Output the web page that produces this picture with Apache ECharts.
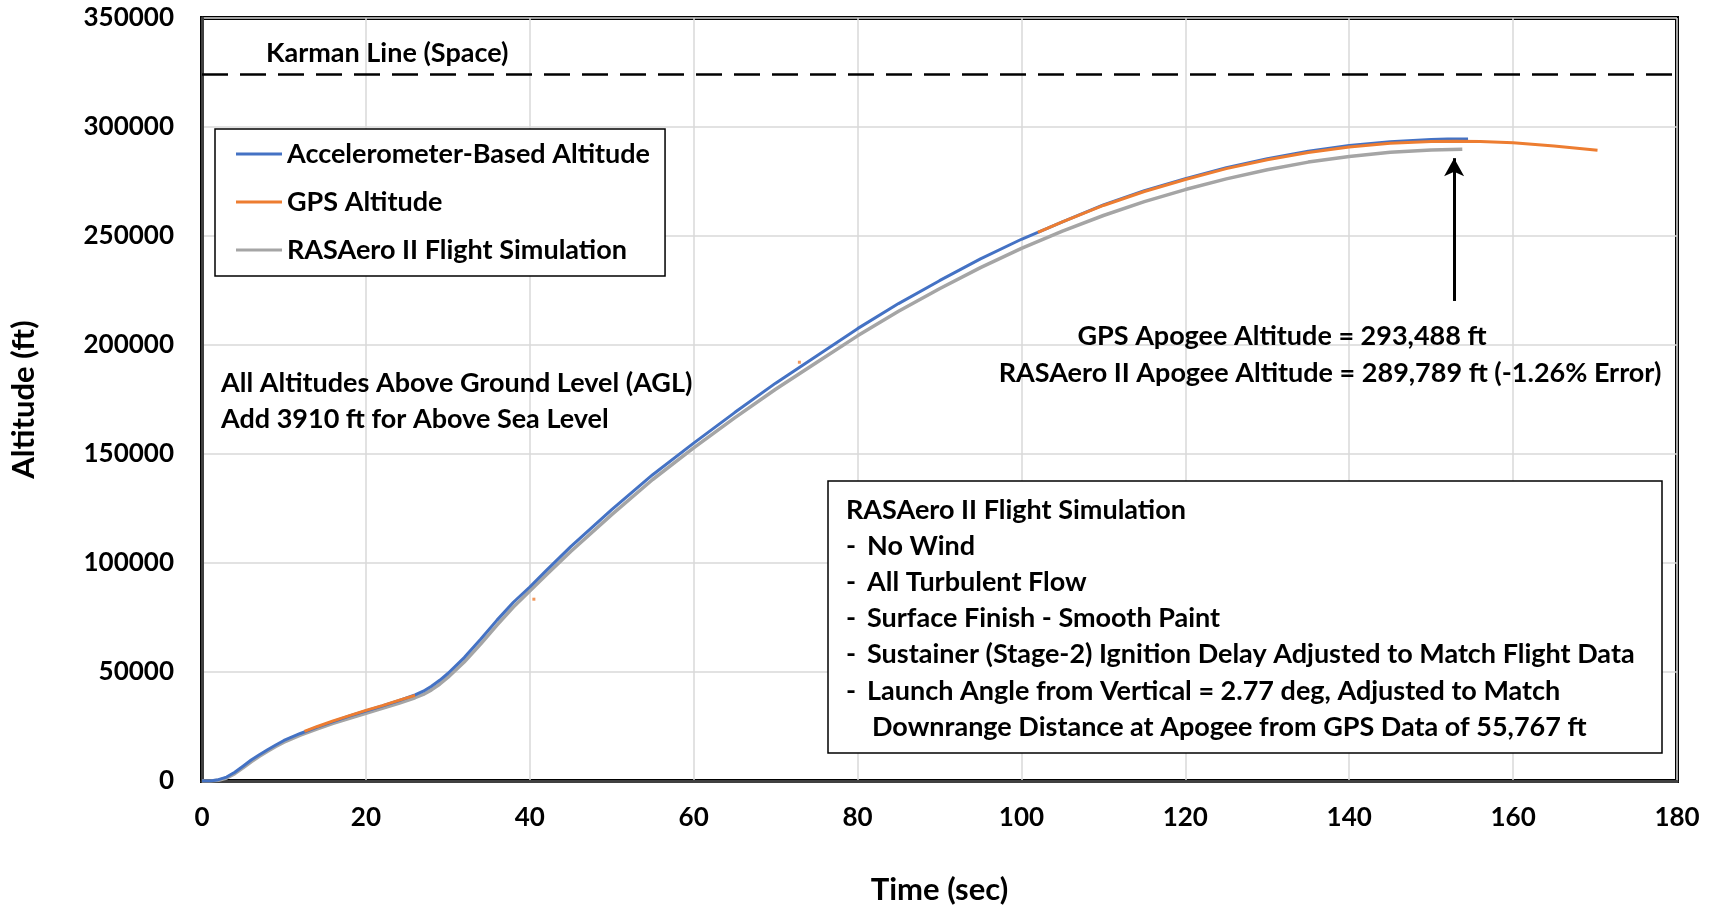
<!DOCTYPE html>
<html>
<head>
<meta charset="utf-8">
<script src="https://cdn.jsdelivr.net/npm/echarts@6/dist/echarts.min.js"></script>
<style>
html,body{margin:0;padding:0;background:#fff;}
#chart{width:1719px;height:910px;}
</style>
</head>
<body>
<div id="chart"></div>
<script>
// ---- Data ----
const timeAccel = [0,1,2,3,4,5,6,7,8,9,10,12,14,16,18,20,22,24,26,27,28,29,30,32,34,36,38,40,42,45,50,55,60,65,70,75,80,85,90,95,100,105,110,115,120,125,130,135,140,145,150,152,154.5];
const altAccel  = [0,0,600,1800,4000,6800,9600,12000,14300,16500,18600,21800,24600,27200,29800,32100,34400,36800,39500,41200,43500,46200,49300,56600,65000,73800,82000,89000,96500,107500,124500,140500,155000,169000,182500,195000,207500,219000,229500,239500,248500,256500,264300,270800,276300,281300,285500,288900,291500,293200,294300,294500,294500];

const timeGps = [12.5,14,16,18,20,22,24,26,null,102,105,110,115,120,125,130,135,140,145,150,153,156,160,165,170.3];
const altGps  = [22800,24900,27600,30000,32400,34600,37000,39300,null,251700,256500,264000,270400,275900,280900,285000,288300,290800,292600,293300,293488,293350,292800,291300,289300];

const timeGpsIsolated = [40.5,72.9];
const altGpsIsolated  = [83400,192100];

const timeSim = [0,1,2,3,4,5,6,7,8,9,10,12,14,16,18,20,22,24,26,27,28,29,30,32,34,36,38,40,42,45,50,55,60,65,70,75,80,85,90,95,100,105,110,115,120,125,130,135,140,145,150,153.8];
const altSim  = [0,0,300,1400,3400,6000,8800,11300,13600,15800,17800,21000,23800,26400,28800,31100,33300,35600,38200,39700,41800,44400,47500,54600,62800,71500,79800,87200,94500,105300,122200,138300,152800,166600,179700,192000,204200,215500,225800,235500,244300,252200,259400,265800,271300,276200,280400,283900,286500,288400,289500,289789];

const karmanAltitudeAGL = 324174;
const arrowTime = 152.8, arrowFromAlt = 220200, arrowToAlt = 285700;

const seriesNames = ['Accelerometer-Based Altitude','GPS Altitude','RASAero II Flight Simulation'];
const xTicks = {min:0, max:180, interval:20};
const yTicks = {min:0, max:350000, interval:50000};

const noteLeft = ['All Altitudes Above Ground Level (AGL)','Add 3910 ft for Above Sea Level'];
const noteApogee = ['GPS Apogee Altitude = 293,488 ft','RASAero II Apogee Altitude = 289,789 ft (-1.26% Error)'];
const boxTitle = 'RASAero II Flight Simulation';
const boxItems = ['No Wind','All Turbulent Flow','Surface Finish - Smooth Paint','Sustainer (Stage-2) Ignition Delay Adjusted to Match Flight Data','Launch Angle from Vertical = 2.77 deg, Adjusted to Match'];
const boxContinuation = 'Downrange Distance at Apogee from GPS Data of 55,767 ft';

// ---- Build ----
const pairs = (t, a) => t.map((v, i) => (v === null ? [null, null] : [v, a[i]]));
const FONT = 'Lato, "Open Sans", sans-serif';
const TXT = 27;

function txt(text, x, y, align, size) {
  return {type:'text', x:x, y:y, z:100,
    style:{text:text, fill:'#000', font:'bold ' + (size||TXT) + 'px ' + FONT,
      textAlign: align||'left', textVerticalAlign:'middle', align: align||'left', verticalAlign:'middle'}};
}

const graphics = [];
graphics.push(txt('Karman Line (Space)', 266, 53, 'left'));
graphics.push(txt(noteLeft[0], 221, 383, 'left'));
graphics.push(txt(noteLeft[1], 221, 419, 'left'));
graphics.push(txt(noteApogee[0], 1282, 336, 'center'));
graphics.push(txt(noteApogee[1], 1330, 373, 'center'));
graphics.push({type:'rect', z:90, shape:{x:828, y:481, width:834, height:272},
  style:{fill:'#fff', stroke:'#000', lineWidth:1.5}});
graphics.push(txt(boxTitle, 846, 510, 'left'));
const boxYs = [546,582,618,654,691];
boxItems.forEach((s, i) => {
  graphics.push(txt('-', 846, boxYs[i], 'left'));
  graphics.push(txt(s, 867, boxYs[i], 'left'));
});
graphics.push(txt(boxContinuation, 872, 727, 'left'));

const axisLabelStyle = {color:'#000', fontSize:26, fontWeight:'bold', fontFamily:FONT};
const option = {
  animation:false,
  backgroundColor:'#fff',
  grid:{left:187, right:42, top:18, bottom:110, show:true, borderColor:'#000', borderWidth:4, backgroundColor:'transparent'},
  xAxis:{type:'value', min:xTicks.min, max:xTicks.max, interval:xTicks.interval,
    name:'Time (sec)', nameLocation:'middle', nameGap:93,
    nameTextStyle:{color:'#000', fontSize:31, fontWeight:'bold', fontFamily:FONT},
    axisLine:{show:true, onZero:false, lineStyle:{color:'#404040', width:3}},
    axisTick:{show:false},
    axisLabel:Object.assign({margin:24, formatter:v => String(v)}, axisLabelStyle),
    splitLine:{show:true, lineStyle:{color:'#d9d9d9', width:1.5}}},
  yAxis:{type:'value', min:yTicks.min, max:yTicks.max, interval:yTicks.interval,
    name:'Altitude (ft)', nameLocation:'middle', nameGap:163, nameRotate:90,
    nameTextStyle:{color:'#000', fontSize:31, fontWeight:'bold', fontFamily:FONT},
    axisLine:{show:true, onZero:false, lineStyle:{color:'#404040', width:3}},
    axisTick:{show:false},
    axisLabel:Object.assign({margin:28, formatter:v => String(v)}, axisLabelStyle),
    splitLine:{show:true, lineStyle:{color:'#d9d9d9', width:1.5}}},
  legend:{show:true, orient:'vertical', left:215, top:129, data:seriesNames,
    icon:'rect', itemWidth:46, itemHeight:3,
    backgroundColor:'#fff', borderColor:'#000', borderWidth:1.5,
    padding:[10,15,11,21], itemGap:18,
    textStyle:{color:'#000', fontSize:27, fontWeight:'bold', fontFamily:FONT, lineHeight:30}},
  graphic:graphics,
  series:[
    {name:seriesNames[2], type:'line', data:pairs(timeSim, altSim), symbol:'none', smooth:false,
      lineStyle:{color:'#A5A5A5', width:3.5}, itemStyle:{color:'#A5A5A5'}},
    {name:seriesNames[0], type:'line', data:pairs(timeAccel, altAccel), symbol:'none',
      lineStyle:{color:'#4472C4', width:3}, itemStyle:{color:'#4472C4'},
      markLine:{silent:true, symbol:['none','none'], label:{show:false},
        lineStyle:{color:'#000', width:2.5, type:[26,12]},
        data:[{yAxis:karmanAltitudeAGL}]}},
    {name:seriesNames[1], type:'line', data:pairs(timeGps, altGps), symbol:'none', connectNulls:false,
      lineStyle:{color:'#ED7D31', width:3}, itemStyle:{color:'#ED7D31'},
      markLine:{silent:true, label:{show:false}, lineStyle:{color:'#000', width:3, type:'solid'},
        data:[[{coord:[arrowTime, arrowFromAlt], symbol:'none'},
               {coord:[arrowTime, arrowToAlt], symbol:'arrow', symbolSize:[15,18]}]]}},
    {name:'GPS isolated fixes', type:'scatter', data:pairs(timeGpsIsolated, altGpsIsolated),
      symbol:'rect', symbolSize:3, itemStyle:{color:'#ED7D31'}}
  ]
};
const chart = echarts.init(document.getElementById('chart'));
chart.setOption(option);
</script>
</body>
</html>
